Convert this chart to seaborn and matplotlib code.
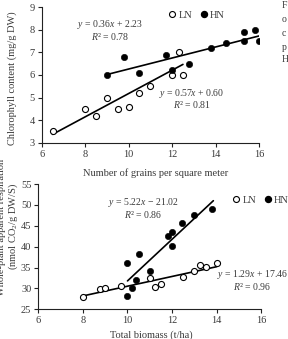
import numpy as np
import pandas as pd
import matplotlib
matplotlib.use('Agg')
import matplotlib.pyplot as plt
import seaborn as sns
from matplotlib.lines import Line2D

sns.set_style('ticks')
plt.rcParams['font.family'] = ['Liberation Serif', 'DejaVu Serif']
plt.rcParams['mathtext.fontset'] = 'custom'
plt.rcParams['mathtext.rm'] = 'Liberation Serif'
plt.rcParams['mathtext.it'] = 'Liberation Serif:italic'

TXT = '#3a3a3a'

# top panel: chlorophyll vs grains per square meter
grain_ln = [6.5, 8.0, 8.5, 9.0, 9.5, 10.0, 10.5, 11.0, 12.0, 12.3, 12.5]
chl_ln = [3.5, 4.5, 4.2, 5.0, 4.5, 4.6, 5.2, 5.5, 6.0, 7.0, 6.0]
grain_hn = [9.0, 9.8, 10.5, 11.7, 12.0, 12.8, 13.8, 14.5, 15.3, 15.3, 15.8, 16.0]
chl_hn = [6.0, 6.8, 6.1, 6.9, 6.2, 6.5, 7.2, 7.4, 7.5, 7.9, 8.0, 7.5]
fit_ln_top_x = [6.5, 12.5]
fit_ln_top_y = [3.37, 6.47]
fit_hn_top_x = [9.0, 16.0]
fit_hn_top_y = [6.02, 7.73]

# bottom panel: respiration vs total biomass
bio_ln = [8.0, 8.75, 9.0, 9.7, 11.0, 11.25, 11.5, 12.5, 13.0, 13.25, 13.5, 14.0]
resp_ln = [28.0, 29.8, 30.2, 30.6, 32.6, 30.3, 31.1, 32.7, 34.2, 35.6, 35.1, 36.2]
bio_hn = [10.0, 10.0, 10.5, 10.2, 10.4, 11.0, 11.8, 12.0, 12.0, 12.45, 13.0, 13.8]
resp_hn = [28.1, 36.1, 38.2, 30.2, 32.0, 34.2, 42.6, 43.6, 40.2, 45.6, 47.6, 49.1]
fit_ln_bot_x = [8.0, 14.0]
fit_ln_bot_y = [28.2, 35.2]
fit_hn_bot_x = [10.0, 13.85]
fit_hn_bot_y = [31.8, 51.0]

W, H = 288, 339
fig = plt.figure(figsize=(W / 100, H / 100), dpi=100)


def box(l, t, r, b):
    return [l / W, 1 - b / H, (r - l) / W, (b - t) / H]


def draw(ax, x_ln, y_ln, x_hn, y_hn, fits):
    for fx, fy in fits:
        sns.lineplot(x=fx, y=fy, ax=ax, color='black', lw=1.2, zorder=2)
    sns.scatterplot(x=x_ln, y=y_ln, ax=ax, s=19, facecolor='white',
                    edgecolor='black', linewidth=0.8, zorder=3)
    sns.scatterplot(x=x_hn, y=y_hn, ax=ax, s=21, color='black',
                    edgecolor='black', linewidth=0.4, zorder=4)
    sns.despine(ax=ax)
    for s in ['left', 'bottom']:
        ax.spines[s].set_linewidth(0.8)
        ax.spines[s].set_color('#222222')
    ax.tick_params(labelsize=7.5, colors='#222222', labelcolor=TXT,
                   length=3, width=0.8, pad=2)


def legend(ax, loc):
    handles = [Line2D([], [], marker='o', ls='', mfc='white', mec='black', ms=4.3, mew=0.8),
               Line2D([], [], marker='o', ls='', mfc='black', mec='black', ms=4.3)]
    leg = ax.legend(handles, ['LN', 'HN'], ncol=2, frameon=False, fontsize=7.5,
                    handletextpad=0.1, columnspacing=0.6, handlelength=1.0,
                    loc='center', bbox_to_anchor=loc, bbox_transform=fig.transFigure,
                    borderaxespad=0)
    for t in leg.get_texts():
        t.set_color(TXT)


def ftext(x, y, s, **kw):
    fig.text(x / W, 1 - y / H, s, ha='center', va='center', color=TXT, **kw)


# top axes
ax1 = fig.add_axes(box(41.7, 7.3, 259, 142.7))
draw(ax1, grain_ln, chl_ln, grain_hn, chl_hn,
     [(fit_ln_top_x, fit_ln_top_y), (fit_hn_top_x, fit_hn_top_y)])
ax1.set_xlim(6, 16)
ax1.set_ylim(3, 9)
ax1.set_xticks(range(6, 17, 2))
ax1.set_yticks(range(3, 10))
ftext(12.5, 78, 'Chlorophyll content (mg/g DW)', fontsize=7.5, rotation=90)
ftext(156, 173, 'Number of grains per square meter', fontsize=7.5)
ftext(110, 24.5, '$y$ = 0.36$x$ + 2.23', fontsize=7)
ftext(110, 36, '$R$\u00b2 = 0.78', fontsize=7)
ftext(192, 93.5, '$y$ = 0.57$x$ + 0.60', fontsize=7)
ftext(192, 105, '$R$\u00b2 = 0.81', fontsize=7)
legend(ax1, (196 / W, 1 - 15 / H))

# bottom axes
ax2 = fig.add_axes(box(38.3, 184, 261.3, 309.3))
draw(ax2, bio_ln, resp_ln, bio_hn, resp_hn,
     [(fit_ln_bot_x, fit_ln_bot_y), (fit_hn_bot_x, fit_hn_bot_y)])
ax2.set_xlim(6, 16)
ax2.set_ylim(25, 55)
ax2.set_xticks(range(6, 17, 2))
ax2.set_yticks(range(25, 56, 5))
ftext(1.5, 227, 'Whole-plant apparent respiration', fontsize=7.5, rotation=90)
ftext(13, 226, '(nmol CO$_2$/g DW/S)', fontsize=7.5, rotation=90)
ftext(151, 335, 'Total biomass (t/ha)', fontsize=7.5)
ftext(143, 202.5, '$y$ = 5.22$x$ \u2212 21.02', fontsize=7)
ftext(143, 214, '$R$\u00b2 = 0.86', fontsize=7)
ftext(252, 274.5, '$y$ = 1.29$x$ + 17.46', fontsize=7)
ftext(252, 286, '$R$\u00b2 = 0.96', fontsize=7)
legend(ax2, (260 / W, 1 - 200 / H))

# clipped caption letters at the right edge
for ch, yy in zip(['F', 'o', 'c', 'p', 'H'], [6, 20, 33, 47, 59]):
    fig.text(282 / W, 1 - yy / H, ch, ha='left', va='center', color=TXT, fontsize=7)

fig.savefig('out.png', dpi=100)
